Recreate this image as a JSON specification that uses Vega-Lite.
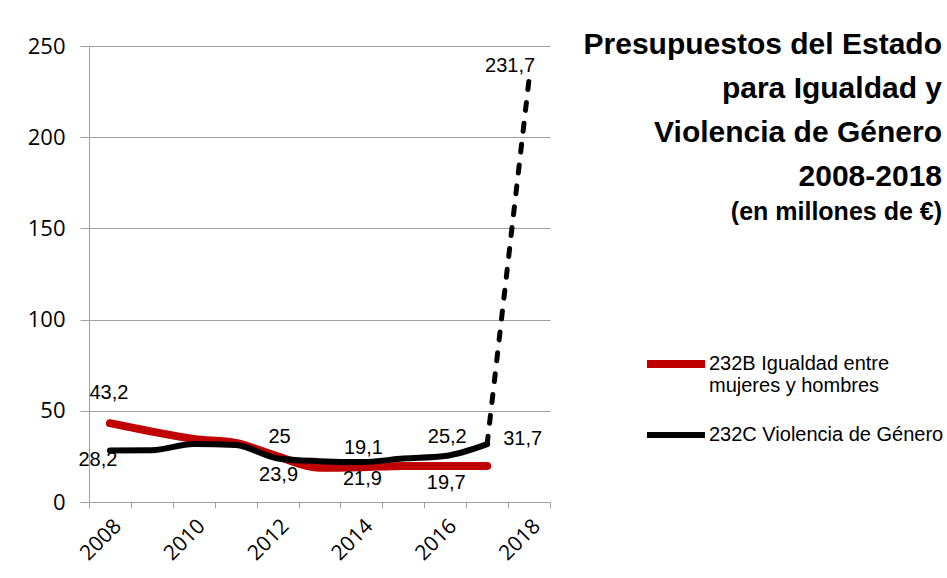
{
  "$schema": "https://vega.github.io/schema/vega-lite/v6.json",
  "width": 461,
  "height": 456,
  "autosize": {"type": "none"},
  "padding": {"left": 89, "top": 46, "right": 397, "bottom": 76},
  "background": "white",
  "config": {
    "view": {"stroke": null},
    "locale": {"number": {"decimal": ",", "thousands": ".", "grouping": [3], "currency": ["", " €"]}}
  },
  "title": {
    "text": ["Presupuestos del Estado", "para Igualdad y", "Violencia de Género", "2008-2018"],
    "subtitle": "(en millones de €)",
    "orient": "top",
    "anchor": "end",
    "frame": "group",
    "font": "Liberation Sans",
    "fontSize": 30,
    "fontWeight": "bold",
    "lineHeight": 44,
    "color": "#000000",
    "subtitleFont": "Liberation Sans",
    "subtitleFontSize": 25,
    "subtitleFontWeight": "bold",
    "subtitleColor": "#000000",
    "subtitlePadding": 8,
    "dx": 392,
    "dy": 194
  },
  "data": {
    "values": [
      {"year": 2008, "serie": "232B Igualdad entre mujeres y hombres", "value": 43.2},
      {"year": 2009, "serie": "232B Igualdad entre mujeres y hombres", "value": 38.6},
      {"year": 2010, "serie": "232B Igualdad entre mujeres y hombres", "value": 34.6},
      {"year": 2011, "serie": "232B Igualdad entre mujeres y hombres", "value": 32.4},
      {"year": 2012, "serie": "232B Igualdad entre mujeres y hombres", "value": 25},
      {"year": 2013, "serie": "232B Igualdad entre mujeres y hombres", "value": 18.8},
      {"year": 2014, "serie": "232B Igualdad entre mujeres y hombres", "value": 19.1},
      {"year": 2015, "serie": "232B Igualdad entre mujeres y hombres", "value": 19.8},
      {"year": 2016, "serie": "232B Igualdad entre mujeres y hombres", "value": 19.7},
      {"year": 2017, "serie": "232B Igualdad entre mujeres y hombres", "value": 19.7},
      {"year": 2008, "serie": "232C Violencia de Género", "value": 28.2},
      {"year": 2009, "serie": "232C Violencia de Género", "value": 28.4},
      {"year": 2010, "serie": "232C Violencia de Género", "value": 31.8},
      {"year": 2011, "serie": "232C Violencia de Género", "value": 31.2},
      {"year": 2012, "serie": "232C Violencia de Género", "value": 23.9},
      {"year": 2013, "serie": "232C Violencia de Género", "value": 22.4},
      {"year": 2014, "serie": "232C Violencia de Género", "value": 21.9},
      {"year": 2015, "serie": "232C Violencia de Género", "value": 23.8},
      {"year": 2016, "serie": "232C Violencia de Género", "value": 25.2},
      {"year": 2017, "serie": "232C Violencia de Género", "value": 31.7},
      {"year": 2018, "serie": "232C Violencia de Género", "value": 231.7}
    ]
  },
  "encoding": {
    "x": {
      "field": "year",
      "type": "ordinal",
      "scale": {"type": "band", "paddingInner": 0, "paddingOuter": 0},
      "axis": {
        "title": null,
        "tickBand": "extent",
        "labelExpr": "datum.value % 2 == 0 ? datum.label : ''",
        "labelAngle": -45,
        "labelFont": "Open Sans",
        "labelFontSize": 21,
        "labelColor": "#000000",
        "labelPadding": 7,
        "tickSize": 6,
        "tickColor": "#a0a0a0",
        "domainColor": "#a0a0a0",
        "grid": false
      }
    },
    "y": {
      "field": "value",
      "type": "quantitative",
      "scale": {"domain": [0, 250], "nice": false},
      "axis": {
        "title": null,
        "values": [0, 50, 100, 150, 200, 250],
        "grid": true,
        "gridColor": "#a0a0a0",
        "tickSize": 9,
        "tickColor": "#a0a0a0",
        "domainColor": "#a0a0a0",
        "labelFont": "Open Sans",
        "labelFontSize": 22,
        "labelColor": "#000000",
        "labelPadding": 15
      }
    }
  },
  "layer": [
    {
      "transform": [{"filter": "datum.year <= 2017"}],
      "mark": {"type": "line", "interpolate": "monotone", "strokeCap": "round", "strokeJoin": "round"},
      "encoding": {
        "color": {
          "field": "serie",
          "type": "nominal",
          "scale": {"domain": ["232B Igualdad entre mujeres y hombres", "232C Violencia de Género"], "range": ["#C00000", "#000000"]},
          "legend": {
            "title": null,
            "orient": "none",
            "legendX": 554,
            "legendY": 285,
            "padding": 0,
            "symbolType": "stroke",
            "symbolSize": 3364,
            "labelFont": "Liberation Sans",
            "labelFontSize": 20,
            "labelColor": "#000000",
            "labelOffset": 0,
            "labelLimit": 400,
            "rowPadding": 7,
            "labelExpr": "datum.label == '232B Igualdad entre mujeres y hombres' ? ['232B Igualdad entre', 'mujeres y hombres'] : datum.label"
          }
        },
        "strokeWidth": {
          "field": "serie",
          "type": "nominal",
          "scale": {"domain": ["232B Igualdad entre mujeres y hombres", "232C Violencia de Género"], "range": [8, 6]},
          "legend": {
            "title": null,
            "orient": "none",
            "legendX": 554,
            "legendY": 285,
            "padding": 0,
            "symbolType": "stroke",
            "symbolSize": 3364,
            "labelFont": "Liberation Sans",
            "labelFontSize": 20,
            "labelColor": "#000000",
            "labelOffset": 0,
            "labelLimit": 400,
            "rowPadding": 7,
            "labelExpr": "datum.label == '232B Igualdad entre mujeres y hombres' ? ['232B Igualdad entre', 'mujeres y hombres'] : datum.label"
          }
        }
      }
    },
    {
      "transform": [{"filter": "datum.serie == '232C Violencia de Género' && datum.year >= 2017"}],
      "mark": {"type": "line", "color": "#000000", "strokeWidth": 5, "strokeDash": [8, 13], "strokeCap": "round"}
    },
    {
      "transform": [{"filter": "datum.serie == '232B Igualdad entre mujeres y hombres' && datum.year == 2008"}],
      "mark": {"type": "text", "font": "Liberation Sans", "fontSize": 20, "color": "#000000", "dx": -1, "dy": -30},
      "encoding": {"text": {"field": "value", "type": "quantitative", "format": ".1~f"}}
    },
    {
      "transform": [{"filter": "(datum.serie == '232B Igualdad entre mujeres y hombres' && (datum.year == 2012 || datum.year == 2014)) || (datum.serie == '232C Violencia de Género' && datum.year == 2016)"}],
      "mark": {"type": "text", "font": "Liberation Sans", "fontSize": 20, "color": "#000000", "dx": 2, "dy": -19},
      "encoding": {"text": {"field": "value", "type": "quantitative", "format": ".1~f"}}
    },
    {
      "transform": [{"filter": "(datum.serie == '232C Violencia de Género' && (datum.year == 2012 || datum.year == 2014)) || (datum.serie == '232B Igualdad entre mujeres y hombres' && datum.year == 2016)"}],
      "mark": {"type": "text", "font": "Liberation Sans", "fontSize": 20, "color": "#000000", "dx": 1, "dy": 17},
      "encoding": {"text": {"field": "value", "type": "quantitative", "format": ".1~f"}}
    },
    {
      "transform": [{"filter": "datum.serie == '232C Violencia de Género' && datum.year == 2008"}],
      "mark": {"type": "text", "font": "Liberation Sans", "fontSize": 20, "color": "#000000", "dx": -12, "dy": 9},
      "encoding": {"text": {"field": "value", "type": "quantitative", "format": ".1~f"}}
    },
    {
      "transform": [{"filter": "datum.serie == '232C Violencia de Género' && datum.year == 2017"}],
      "mark": {"type": "text", "font": "Liberation Sans", "fontSize": 20, "color": "#000000", "align": "left", "dx": 16, "dy": -5},
      "encoding": {"text": {"field": "value", "type": "quantitative", "format": ".1~f"}}
    },
    {
      "transform": [{"filter": "datum.serie == '232C Violencia de Género' && datum.year == 2018"}],
      "mark": {"type": "text", "font": "Liberation Sans", "fontSize": 20, "color": "#000000", "dx": -19, "dy": -13},
      "encoding": {"text": {"field": "value", "type": "quantitative", "format": ".1~f"}}
    }
  ]
}
